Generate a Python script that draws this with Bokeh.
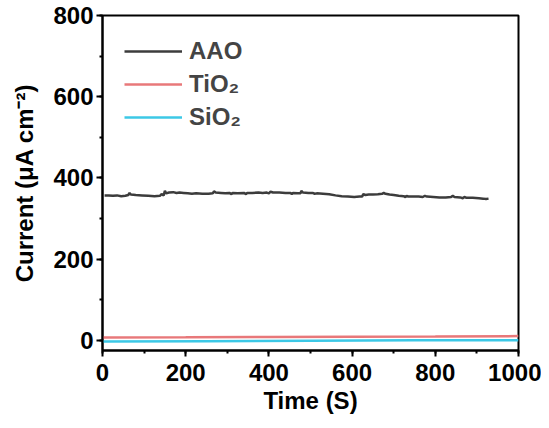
from bokeh.plotting import figure
from bokeh.models import Range1d, SingleIntervalTicker, Legend, LegendItem
from bokeh.embed import file_html
from bokeh.resources import INLINE

# AAO series (time in s, current in uA cm^-2)
aao_t = [5, 15, 25, 35, 45, 55, 62, 65, 68, 80, 95, 110, 125, 138, 142, 147, 150, 153, 160, 170,
         178, 185, 195, 205, 215, 225, 240, 255, 265, 268, 272, 285, 295, 305, 310, 313, 325, 340,
         345, 348, 360, 375, 385, 395, 400, 404, 410, 425, 440, 452, 455, 458, 470, 476, 478, 482,
         495, 505, 510, 515, 530, 545, 560, 575, 590, 605, 618, 624, 627, 632, 640, 650, 662, 672,
         676, 680, 690, 700, 712, 724, 728, 731, 735, 748, 760, 770, 775, 780, 795, 810, 825, 838,
         842, 846, 860, 866, 870, 875, 890, 905, 915, 922, 928]
aao_v = [357, 357, 356, 357, 355, 356, 358, 363, 359, 358, 357, 356, 355, 356, 360, 357, 368, 362, 364, 365,
         363, 364, 363, 362, 361, 362, 361, 361, 362, 367, 364, 363, 362, 363, 360, 363, 362, 363,
         360, 363, 363, 364, 363, 364, 362, 366, 364, 364, 363, 363, 360, 363, 362, 362, 368, 364,
         363, 363, 361, 362, 361, 360, 357, 355, 354, 353, 354, 354, 360, 358, 359, 359, 360, 361,
         363, 361, 359, 358, 356, 355, 353, 356, 354, 354, 354, 353, 356, 354, 353, 352, 352, 353,
         356, 353, 352, 350, 353, 351, 351, 350, 349, 348, 349]

tio2_t = [0, 200, 400, 600, 800, 1000]
tio2_v = [7, 7.5, 8.5, 9, 9.5, 10.5]

sio2_t = [0, 250, 500, 750, 1000]
sio2_v = [-3, -2, -1, 0, 0.5]

x_ticks_major = 200
y_ticks_major = 200

FONT = "Liberation Sans"

p = figure(width=541, height=420, output_backend="svg", toolbar_location=None,
           x_range=Range1d(0, 1000), y_range=Range1d(-25, 800),
           min_border_left=102, min_border_right=23, min_border_top=15, min_border_bottom=70)

p.grid.visible = False
p.outline_line_color = "black"
p.outline_line_width = 2
p.outline_line_alpha = 1

r_aao = p.line(aao_t, aao_v, line_color="#3c3c3c", line_width=2.5)
r_tio2 = p.line(tio2_t, tio2_v, line_color="#e8787a", line_width=2.5)
r_sio2 = p.line(sio2_t, sio2_v, line_color="#3cc8e6", line_width=2.5)

p.xaxis.ticker = SingleIntervalTicker(interval=x_ticks_major, num_minor_ticks=2)
p.yaxis.ticker = SingleIntervalTicker(interval=y_ticks_major, num_minor_ticks=2)

for ax in (p.xaxis[0], p.yaxis[0]):
    ax.axis_line_width = 2
    ax.major_tick_line_width = 2
    ax.minor_tick_line_width = 2
    ax.major_tick_out = 6
    ax.major_tick_in = 0
    ax.minor_tick_out = 3
    ax.minor_tick_in = 0
    ax.major_label_text_font = FONT
    ax.major_label_text_font_style = "bold"
    ax.major_label_text_font_size = "24px"
    ax.major_label_text_color = "black"
    ax.axis_label_text_font = FONT
    ax.axis_label_text_font_style = "bold"
    ax.axis_label_text_font_size = "24px"
    ax.axis_label_text_color = "black"

p.xaxis.axis_label = "Time (S)"
p.yaxis.axis_label = "Current (μA cm⁻²)"
p.xaxis.major_label_standoff = 7
p.yaxis.major_label_standoff = 3
p.xaxis.axis_label_standoff = 3
p.yaxis.axis_label_standoff = 12

legend = Legend(items=[
    LegendItem(label="AAO", renderers=[r_aao]),
    LegendItem(label="TiO₂", renderers=[r_tio2]),
    LegendItem(label="SiO₂", renderers=[r_sio2]),
], location="top_left")
legend.background_fill_alpha = 0
legend.border_line_alpha = 0
legend.label_text_font = FONT
legend.label_text_font_style = "bold"
legend.label_text_font_size = "24px"
legend.glyph_width = 58
legend.glyph_height = 24
legend.label_height = 24
legend.spacing = 5
legend.label_standoff = 7
legend.margin = 10
legend.padding = 12
p.add_layout(legend)

open("out.html", "w").write(file_html(p, INLINE))
